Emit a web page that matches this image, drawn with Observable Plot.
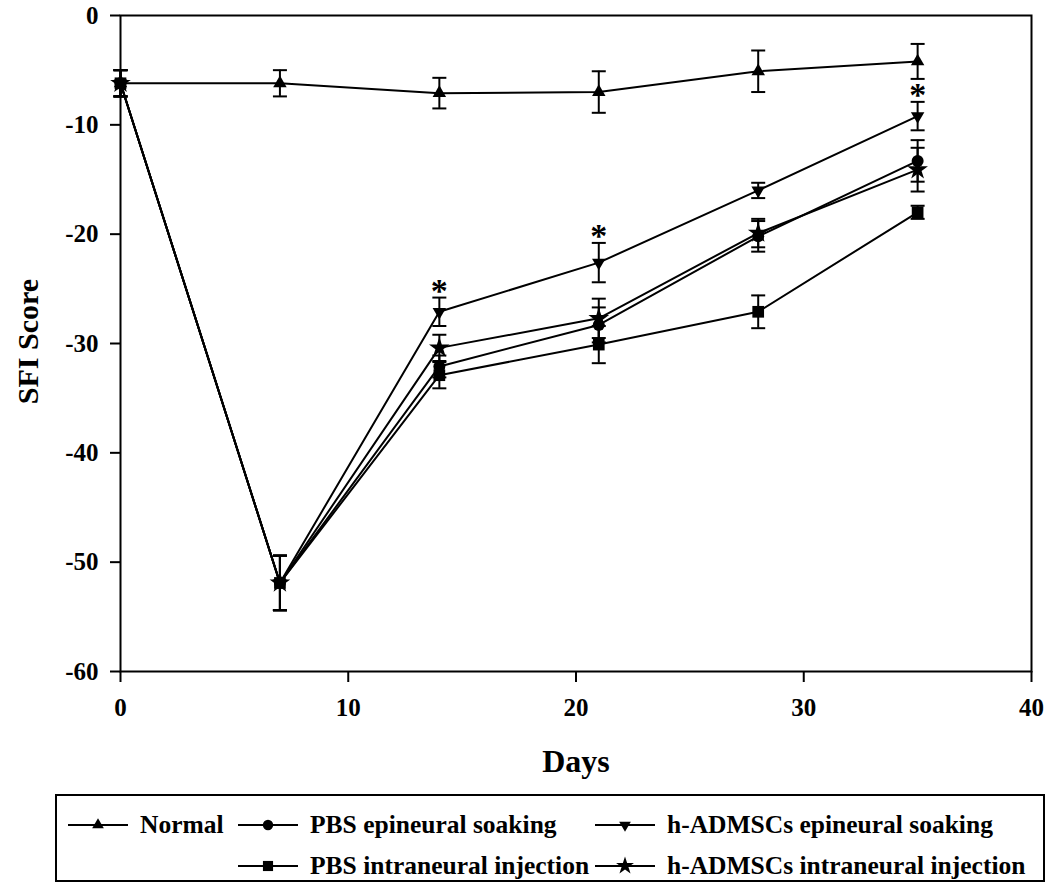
<!DOCTYPE html>
<html>
<head>
<meta charset="utf-8">
<script src="https://cdn.jsdelivr.net/npm/d3@7"></script>
<script src="https://cdn.jsdelivr.net/npm/@observablehq/plot@0.6"></script>
<style>
  html, body { margin: 0; padding: 0; background: white; }
  #wrap { position: relative; width: 1052px; height: 885px; }
  #legend { position: absolute; left: 55px; top: 794px; width: 990px; height: 88px;
            border: 2px solid black; box-sizing: border-box;
            font-family: 'Liberation Serif', 'Times New Roman', serif; font-weight: bold; font-size: 25.5px; }
  .item { position: absolute; display: flex; align-items: center; white-space: nowrap; }
  .item svg { display: block; margin-right: 12px; }
</style>
</head>
<body>
<div id="wrap">
  <div id="chart"></div>
  <div id="legend"></div>
</div>
<script>
// ---- data ----
const days = [0, 7, 14, 21, 28, 35];
const seriesNames = ["Normal", "PBS epineural soaking", "h-ADMSCs epineural soaking", "PBS intraneural injection", "h-ADMSCs intraneural injection"];
const normalMean = [-6.2, -6.2, -7.1, -7.0, -5.1, -4.2];
const normalErr  = [1.2, 1.2, 1.4, 1.9, 1.9, 1.6];
const pbsEpiMean = [-6.2, -51.9, -32.1, -28.3, -20.2, -13.3];
const pbsEpiErr  = [1.2, 2.5, 1.0, 1.6, 1.4, 1.9];
const hEpiMean   = [-6.2, -51.9, -27.1, -22.6, -16.0, -9.2];
const hEpiErr    = [1.2, 2.5, 1.3, 1.8, 0.7, 1.3];
const pbsIntMean = [-6.2, -51.9, -32.9, -30.1, -27.1, -18.0];
const pbsIntErr  = [1.2, 2.5, 1.2, 1.7, 1.5, 0.6];
const hIntMean   = [-6.2, -51.9, -30.4, -27.7, -19.9, -14.1];
const hIntErr    = [1.2, 2.5, 1.2, 1.8, 1.3, 2.0];
const asteriskDays = [14, 21, 35]; // significance marks over h-ADMSCs epineural soaking
const xTicks = [0, 10, 20, 30, 40];
const yTicks = [-60, -50, -40, -30, -20, -10, 0];

// ---- symbols ----
const triangleDown = {
  draw(ctx, size) {
    const y = Math.sqrt(size / (Math.sqrt(3) * 3));
    ctx.moveTo(0, 2 * y);
    ctx.lineTo(-Math.sqrt(3) * y, -y);
    ctx.lineTo(Math.sqrt(3) * y, -y);
    ctx.closePath();
  }
};
const capSymbol = {
  draw(ctx, size) {
    const w = Math.sqrt(size) / 2;
    ctx.moveTo(-w, 0);
    ctx.lineTo(w, 0);
  }
};

const seriesDefs = [
  {name: seriesNames[0], mean: normalMean, err: normalErr, symbol: d3.symbolTriangle, r: 5},
  {name: seriesNames[1], mean: pbsEpiMean, err: pbsEpiErr, symbol: d3.symbolCircle, r: 6},
  {name: seriesNames[2], mean: hEpiMean, err: hEpiErr, symbol: triangleDown, r: 5},
  {name: seriesNames[3], mean: pbsIntMean, err: pbsIntErr, symbol: d3.symbolSquare, r: 6.6},
  {name: seriesNames[4], mean: hIntMean, err: hIntErr, symbol: d3.symbolStar, r: 6.5}
];

const rows = s => days.map((d, i) => ({series: s.name, day: d, mean: s.mean[i], err: s.err[i]}));

const marks = [Plot.frame({stroke: "black", strokeWidth: 2})];
for (const s of seriesDefs) {
  const data = rows(s);
  marks.push(Plot.line(data, {x: "day", y: "mean", stroke: "black", strokeWidth: 2}));
  marks.push(Plot.ruleX(data, {x: "day", y1: d => d.mean - d.err, y2: d => d.mean + d.err, stroke: "black", strokeWidth: 2}));
  marks.push(Plot.dot(data, {x: "day", y: d => d.mean + d.err, symbol: capSymbol, r: 7.9, stroke: "black", strokeWidth: 2, fill: "none"}));
  marks.push(Plot.dot(data, {x: "day", y: d => d.mean - d.err, symbol: capSymbol, r: 7.9, stroke: "black", strokeWidth: 2, fill: "none"}));
  marks.push(Plot.dot(data, {x: "day", y: "mean", symbol: s.symbol, r: s.r, fill: "black", stroke: "none"}));
}
const hEpiRows = rows(seriesDefs[2]).filter(d => asteriskDays.includes(d.day));
marks.push(Plot.text(hEpiRows, {x: "day", y: d => d.mean + d.err, text: () => "*", fontSize: 34, lineAnchor: "bottom", dy: 4, fill: "black"}));

// axes: lines and ticks from Plot's axis marks, labels as text marks at the same tick values
marks.push(Plot.axisX({ticks: xTicks, tickSize: 11, strokeWidth: 2, label: null, tickFormat: () => ""}));
marks.push(Plot.axisY({ticks: yTicks, tickSize: 10, strokeWidth: 2, label: null, tickFormat: () => ""}));
marks.push(Plot.text(xTicks, {x: d => d, frameAnchor: "bottom", lineAnchor: "top", dy: 27, text: d => String(d), fontSize: 25, fill: "black"}));
marks.push(Plot.text(yTicks, {y: d => d, frameAnchor: "left", textAnchor: "end", dx: -22, text: d => String(d), fontSize: 25, fill: "black"}));
marks.push(Plot.text(["SFI Score"], {frameAnchor: "left", textAnchor: "middle", rotate: -90, dx: -92, dy: -2, fontSize: 30, fill: "black"}));
marks.push(Plot.text(["Days"], {frameAnchor: "bottom", dy: 100, fontSize: 32, fill: "black"}));

const chart = Plot.plot({
  width: 1052,
  height: 790,
  marginTop: 15,
  marginLeft: 120,
  marginRight: 21,
  marginBottom: 119,
  x: {domain: [0, 40]},
  y: {domain: [-60, 0]},
  style: {fontFamily: "'Liberation Serif', 'Times New Roman', serif", fontWeight: "bold", fontSize: "25px", color: "black", background: "white", overflow: "visible"},
  marks
});
document.getElementById("chart").appendChild(chart);

// ---- legend ----
const legendPos = [
  {left: 11, top: 14}, {left: 181, top: 14}, {left: 538, top: 14},
  {left: 181, top: 55}, {left: 538, top: 55}
];
const legend = document.getElementById("legend");
seriesDefs.forEach((s, i) => {
  const item = document.createElement("div");
  item.className = "item";
  item.style.left = legendPos[i].left + "px";
  item.style.top = legendPos[i].top + "px";
  const size = s.r * s.r * Math.PI * 0.75;
  const path = d3.symbol().type(s.symbol).size(size)();
  item.innerHTML = `<svg width="60" height="20"><line x1="0" x2="60" y1="10" y2="10" stroke="black" stroke-width="2"/>` +
    `<path transform="translate(30,10)" d="${path}" fill="black"/></svg><span>${s.name}</span>`;
  legend.appendChild(item);
});
</script>
</body>
</html>
